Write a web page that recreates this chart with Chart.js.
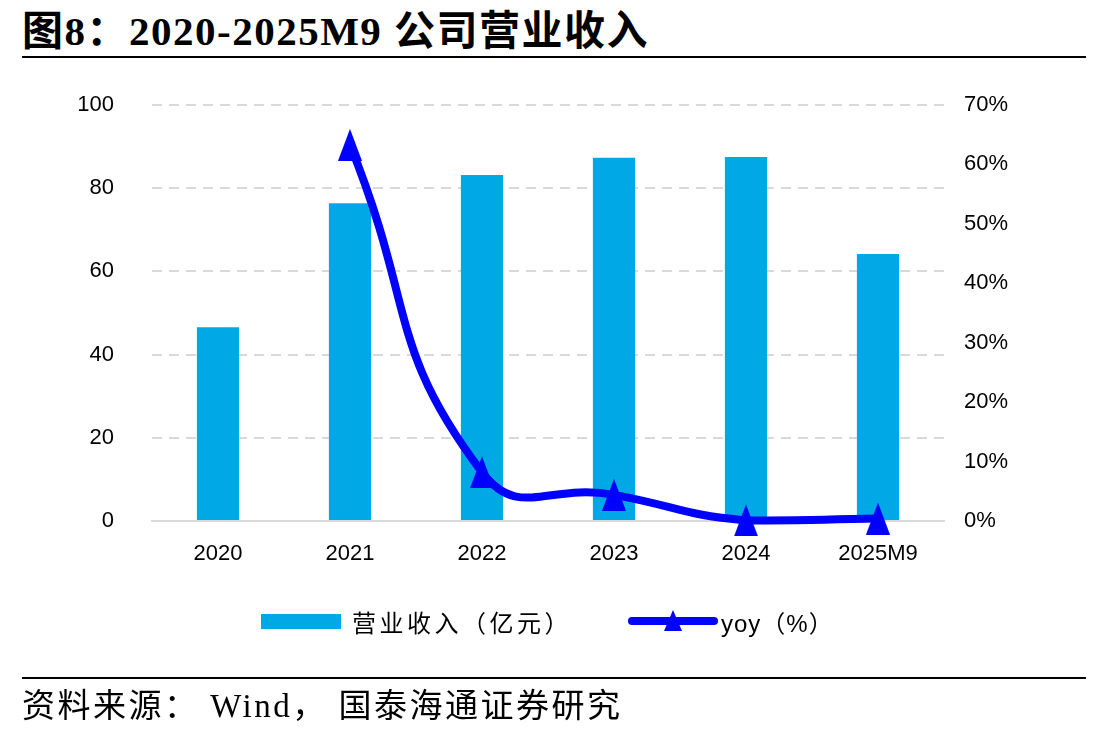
<!DOCTYPE html>
<html>
<head>
<meta charset="utf-8">
<script src="https://cdn.jsdelivr.net/npm/chart.js@4"></script>
<style>
  body { margin: 0; background: #fff; width: 1108px; height: 737px; position: relative; overflow: hidden; }
  #title { position: absolute; left: 22px; top: -3px; line-height: 1; font: bold 41px "Liberation Serif", "Noto Sans CJK SC", serif; letter-spacing: 1.5px; color: #000; white-space: nowrap; }
  #topRule { position: absolute; left: 22px; top: 56px; width: 1064px; height: 2px; background: #000; }
  #botRule { position: absolute; left: 22px; top: 677px; width: 1064px; height: 2px; background: #000; }
  #source { position: absolute; left: 22px; top: 679px; line-height: 1; font: 33px "Liberation Serif", "Noto Sans CJK SC", serif; letter-spacing: 2.5px; color: #000; white-space: nowrap; }
  #chartBox { position: absolute; left: 0; top: 0; width: 1108px; height: 737px; }
  .legend { position: absolute; top: 606px; font: 24px "Noto Sans CJK SC", "Liberation Sans", sans-serif; color: #000; display: flex; align-items: center; height: 30px; white-space: nowrap; }
  .swatch { width: 80px; height: 15px; background: #00A9E5; margin-right: 11px; }
</style>
</head>
<body>
<div id="title">图8：2020-2025M9 公司营业收入</div>
<div id="topRule"></div>
<div id="chartBox"><canvas id="revChart" width="1108" height="737"></canvas></div>
<div class="legend" style="left:261px; letter-spacing:3.5px;"><div class="swatch"></div><span>营业收入（亿元）</span></div>
<div class="legend" style="left:627px;">
  <svg width="92" height="30" style="margin-right:2px">
    <line x1="5" y1="15" x2="87" y2="15" stroke="#0000FF" stroke-width="8" stroke-linecap="round"/>
    <polygon points="46,4 55,25 37,25" fill="#0000FF"/>
  </svg>
  <span style="font-family:'Liberation Sans','Noto Sans CJK SC',sans-serif; letter-spacing:1px;">yoy（%）</span>
</div>
<div id="botRule"></div>
<div id="source">资料来源： Wind， 国泰海通证券研究</div>

<script>
// categories and values
const years = ["2020", "2021", "2022", "2023", "2024", "2025M9"];
const revenue = [46.6, 76.4, 83.2, 87.3, 87.5, 64.2];   // 亿元
const yoy = [null, 63.3, 8.2, 4.4, 0.1, 0.4];            // %

const leftTicks = [0, 20, 40, 60, 80, 100];
const rightTicks = [0, 10, 20, 30, 40, 50, 60, 70];

const tickFont = { family: "Liberation Sans, Arial, sans-serif", size: 22 };
const gridGray = "#d9d9d9";

// tall triangle marker like the original
const tri = document.createElement("canvas");
tri.width = 24; tri.height = 32;
const tctx = tri.getContext("2d");
tctx.fillStyle = "#0000FF";
tctx.beginPath();
tctx.moveTo(12, 0);
tctx.lineTo(24, 32);
tctx.lineTo(0, 32);
tctx.closePath();
tctx.fill();

new Chart(document.getElementById("revChart"), {
  type: "bar",
  data: {
    labels: years,
    datasets: [
      {
        type: "line",
        label: "yoy（%）",
        data: yoy,
        yAxisID: "yR",
        borderColor: "#0000FF",
        backgroundColor: "#0000FF",
        borderWidth: 8,
        tension: 0.5,
        pointStyle: tri,
        pointRadius: 12,
        pointHoverRadius: 12,
        clip: false,
        order: 0
      },
      {
        label: "营业收入（亿元）",
        data: revenue,
        yAxisID: "yL",
        backgroundColor: "#00A9E5",
        barPercentage: 0.32,
        categoryPercentage: 1,
        order: 1
      }
    ]
  },
  options: {
    responsive: false,
    animation: false,
    layout: { padding: { top: 105, left: 0, right: 0, bottom: 0 } },
    plugins: { legend: { display: false }, tooltip: { enabled: false } },
    scales: {
      x: {
        grid: { display: false, drawTicks: false },
        border: { display: true, color: gridGray, width: 2 },
        ticks: { color: "#000", font: tickFont, padding: 20 },
        afterFit: s => { s.height = 216; }
      },
      yL: {
        position: "left",
        min: 0, max: 100,
        afterBuildTicks: s => { s.ticks = leftTicks.map(v => ({ value: v })); },
        grid: {
          drawTicks: false,
          lineWidth: 2,
          color: c => (c.tick && c.tick.value === 0 ? "rgba(0,0,0,0)" : gridGray)
        },
        border: { display: false, dash: [10, 7] },
        ticks: { color: "#000", font: tickFont, padding: 38 },
        afterFit: s => { s.width = 152; }
      },
      yR: {
        position: "right",
        min: 0, max: 70,
        afterBuildTicks: s => { s.ticks = rightTicks.map(v => ({ value: v })); },
        grid: { display: false, drawTicks: false },
        border: { display: false },
        ticks: { color: "#000", font: tickFont, padding: 20, callback: v => v + "%" },
        afterFit: s => { s.width = 164; }
      }
    }
  }
});
</script>
</body>
</html>
